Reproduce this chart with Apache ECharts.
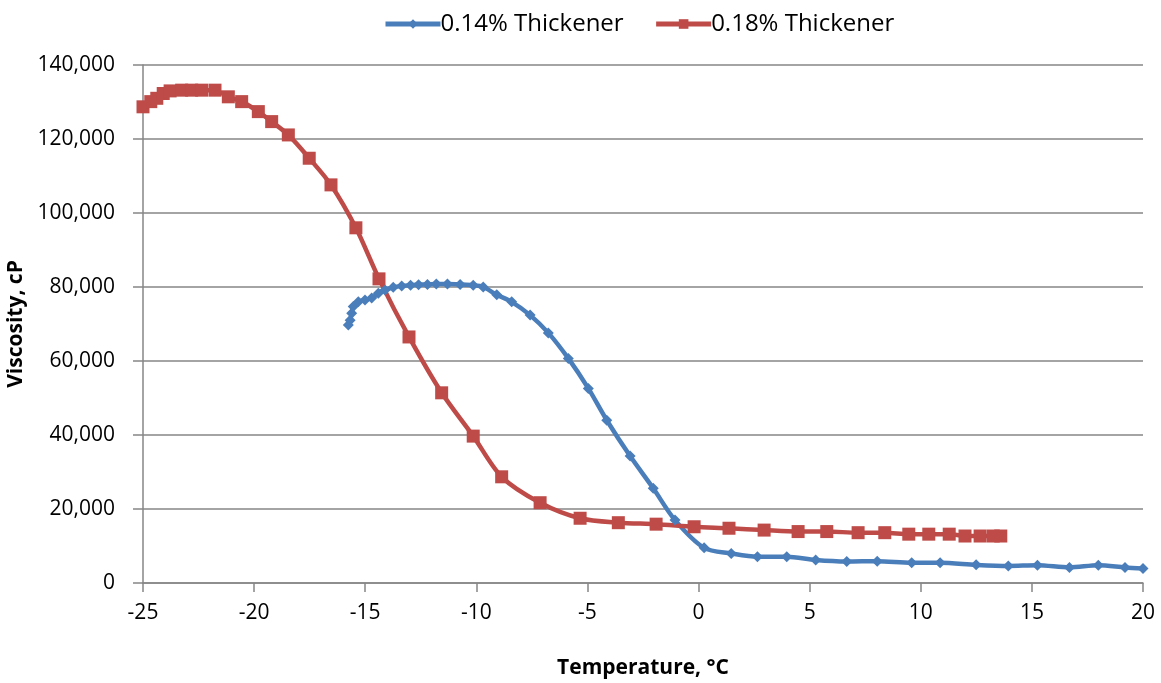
<!DOCTYPE html>
<html>
<head>
<meta charset="utf-8">
<script src="https://cdn.jsdelivr.net/npm/echarts@6/dist/echarts.min.js"></script>
<style>
  html, body { margin: 0; padding: 0; background: #fff; }
  #chart { width: 1161px; height: 683px; }
</style>
</head>
<body>
<div id="chart"></div>
<script>
// 0.14% thickener: [temperature, viscosity]
var thin14 = [
  [-15.76, 69700], [-15.68, 71000], [-15.61, 72900], [-15.54, 74700], [-15.31, 76000],
  [-15.01, 76500], [-14.71, 77000], [-14.41, 78300], [-14.11, 79200], [-13.74, 79900],
  [-13.36, 80300], [-12.96, 80500], [-12.6, 80600], [-12.2, 80700], [-11.8, 80800],
  [-11.3, 80800], [-10.73, 80700], [-10.14, 80500], [-9.69, 80000], [-9.08, 77900],
  [-8.41, 76000], [-7.58, 72400], [-6.76, 67600], [-5.86, 60700], [-4.96, 52600],
  [-4.13, 44000], [-3.08, 34300], [-2.04, 25600], [-1.06, 17000], [0.25, 9500],
  [1.47, 8000], [2.65, 7100], [3.97, 7100], [5.27, 6200], [6.67, 5800],
  [8.04, 5900], [9.59, 5500], [10.87, 5500], [12.49, 4900], [13.94, 4600],
  [15.25, 4800], [16.69, 4200], [17.99, 4800], [19.19, 4200], [20.0, 3900]
];
// 0.18% thickener
var thin18 = [
  [-25.0, 128700], [-24.65, 130100], [-24.38, 131000], [-24.09, 132300], [-23.78, 133000],
  [-23.26, 133200], [-22.81, 133200], [-22.36, 133200], [-21.76, 133200], [-21.16, 131400],
  [-20.56, 130100], [-19.81, 127400], [-19.21, 124700], [-18.46, 121100], [-17.52, 114800],
  [-16.54, 107600], [-15.42, 96000], [-14.38, 82200], [-13.03, 66500], [-11.56, 51400],
  [-10.14, 39700], [-8.86, 28700], [-7.13, 21700], [-5.33, 17500], [-3.61, 16300],
  [-1.91, 15900], [-0.2, 15200], [1.37, 14800], [2.95, 14300], [4.48, 13900],
  [5.77, 13900], [7.18, 13600], [8.38, 13600], [9.46, 13200], [10.36, 13200],
  [11.28, 13200], [11.99, 12700], [12.67, 12700], [13.26, 12700], [13.6, 12700]
];
var seriesNames = ["0.14% Thickener", "0.18% Thickener"];

var font = "'Open Sans', 'Liberation Sans', sans-serif";
var axisGray = "#868686";
var chart = echarts.init(document.getElementById("chart"));
var option = {
  animation: false,
  textStyle: { fontFamily: font },
  legend: {
    top: 7,
    left: 378,
    itemWidth: 55,
    itemHeight: 12,
    itemGap: 30,
    lineStyle: { width: 5 },
    textStyle: { fontSize: 24, color: "#000", fontFamily: font, padding: [0, 0, 0, -5] },
    data: seriesNames
  },
  grid: { left: 143, right: 18, top: 65, bottom: 100, outerBoundsMode: "none" },
  xAxis: {
    type: "value",
    min: -25,
    max: 20,
    interval: 5,
    name: "Temperature, °C",
    nameLocation: "middle",
    nameGap: 75,
    nameTextStyle: { fontSize: 21, fontWeight: "bold", color: "#000" },
    axisLine: { onZero: false, lineStyle: { color: axisGray, width: 1.5 } },
    axisTick: { show: true, length: 9, lineStyle: { color: axisGray, width: 1.5 } },
    axisLabel: { fontSize: 21, color: "#000", margin: 20 },
    splitLine: { show: false }
  },
  yAxis: {
    type: "value",
    min: 0,
    max: 140000,
    interval: 20000,
    name: "Viscosity, cP",
    nameLocation: "middle",
    nameGap: 110,
    nameTextStyle: { fontSize: 21, fontWeight: "bold", color: "#000" },
    axisLine: { show: true, onZero: false, lineStyle: { color: axisGray, width: 1.5 } },
    axisTick: { show: true, length: 10, lineStyle: { color: axisGray, width: 1.5 } },
    axisLabel: {
      fontSize: 21,
      color: "#000",
      margin: 28,
      formatter: function (v) { return v.toLocaleString("en-US"); }
    },
    splitLine: { lineStyle: { color: axisGray, width: 1.5 } }
  },
  series: [
    {
      name: seriesNames[0],
      type: "line",
      data: thin14,
      smooth: 0.3,
      symbol: "diamond",
      symbolSize: 11,
      itemStyle: { color: "#4A7EBB" },
      lineStyle: { color: "#4A7EBB", width: 4.5 }
    },
    {
      name: seriesNames[1],
      type: "line",
      data: thin18,
      smooth: 0.3,
      symbol: "rect",
      symbolSize: 13,
      itemStyle: { color: "#BE4B48" },
      lineStyle: { color: "#BE4B48", width: 4.5 }
    }
  ]
};
chart.setOption(option);
</script>
</body>
</html>
